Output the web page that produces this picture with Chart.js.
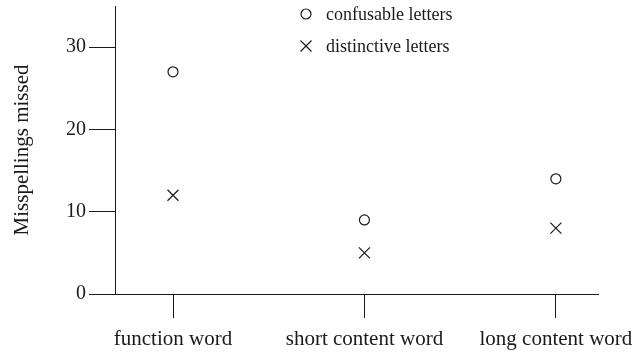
<!DOCTYPE html>
<html lang="en">
<head>
    <meta charset="UTF-8">
    <title>Misspellings missed</title>
    <style>
        body {
            margin: 0;
            padding: 0;
            background-color: #fff;
        }
        #missChart {
            display: block;
        }
    </style>
    <script src="https://cdn.jsdelivr.net/npm/chart.js"></script>
</head>
<body>
    <canvas id="missChart" width="640" height="353"></canvas>
    <script>
        const categories = ['function word', 'short content word', 'long content word'];
        const confusable = [27, 9, 14];
        const distinctive = [12, 5, 8];
        const yTicks = [0, 10, 20, 30];

        const serif = 'Liberation Serif, Times New Roman, serif';
        const ink = '#1a1a1a';

        function toPoints(values) {
            return values.map((v, i) => ({ x: i, y: v }));
        }

        // legend drawn by hand: marker + label, stacked near the top middle
        const markerLegend = {
            id: 'markerLegend',
            afterDraw(chart) {
                const ctx = chart.ctx;
                ctx.save();
                ctx.strokeStyle = ink;
                ctx.fillStyle = ink;
                ctx.lineWidth = 1.2;
                ctx.font = '18px ' + serif;
                ctx.textBaseline = 'middle';
                ctx.textAlign = 'left';
                chart.data.datasets.forEach((ds, i) => {
                    const x = 306, y = 14 + i * 32;
                    ctx.beginPath();
                    if (ds.pointStyle === 'circle') {
                        ctx.arc(x, y, 5, 0, Math.PI * 2);
                    } else {
                        ctx.moveTo(x - 5.5, y - 5.5); ctx.lineTo(x + 5.5, y + 5.5);
                        ctx.moveTo(x + 5.5, y - 5.5); ctx.lineTo(x - 5.5, y + 5.5);
                    }
                    ctx.stroke();
                    ctx.fillText(ds.label, 326, y + 1);
                });
                ctx.restore();
            }
        };

        new Chart(document.getElementById('missChart'), {
            type: 'scatter',
            data: {
                datasets: [{
                    label: 'confusable letters',
                    data: toPoints(confusable),
                    pointStyle: 'circle',
                    pointRadius: 5,
                    pointBorderWidth: 1.2,
                    pointBorderColor: ink,
                    pointBackgroundColor: '#fff'
                }, {
                    label: 'distinctive letters',
                    data: toPoints(distinctive),
                    pointStyle: 'crossRot',
                    pointRadius: 7.8,
                    pointBorderWidth: 1.2,
                    pointBorderColor: ink,
                    pointBackgroundColor: ink
                }]
            },
            options: {
                responsive: false,
                animation: false,
                layout: {
                    autoPadding: false,
                    padding: { top: 6, right: 42, left: 0, bottom: 0 }
                },
                plugins: {
                    legend: { display: false },
                    tooltip: { enabled: false }
                },
                scales: {
                    x: {
                        type: 'linear',
                        min: -0.303,
                        max: 2.22,
                        afterBuildTicks: scale => {
                            scale.ticks = categories.map((c, i) => ({ value: i }));
                        },
                        afterFit: scale => {
                            scale.height = 59;
                            scale.paddingLeft = 0;
                            scale.paddingRight = 0;
                        },
                        border: { display: true, color: ink, width: 1 },
                        grid: {
                            drawOnChartArea: false,
                            drawTicks: true,
                            tickLength: 24,
                            tickColor: ink,
                            tickWidth: 1
                        },
                        ticks: {
                            color: ink,
                            padding: 9,
                            maxRotation: 0,
                            font: { family: serif, size: 21 },
                            callback: v => categories[v]
                        }
                    },
                    y: {
                        min: 0,
                        max: 35,
                        afterBuildTicks: scale => {
                            scale.ticks = yTicks.map(v => ({ value: v }));
                        },
                        afterFit: scale => {
                            scale.width = 115;
                            scale.paddingTop = 0;
                            scale.paddingBottom = 0;
                        },
                        border: { display: true, color: ink, width: 1 },
                        grid: {
                            drawOnChartArea: false,
                            drawTicks: true,
                            tickLength: 26,
                            tickColor: ink,
                            tickWidth: 1
                        },
                        ticks: {
                            color: ink,
                            padding: 3,
                            font: { family: serif, size: 20 }
                        },
                        title: {
                            display: true,
                            text: 'Misspellings missed',
                            color: ink,
                            padding: { top: 10, bottom: 0 },
                            font: { family: serif, size: 21 }
                        }
                    }
                }
            },
            plugins: [markerLegend]
        });
    </script>
</body>
</html>
